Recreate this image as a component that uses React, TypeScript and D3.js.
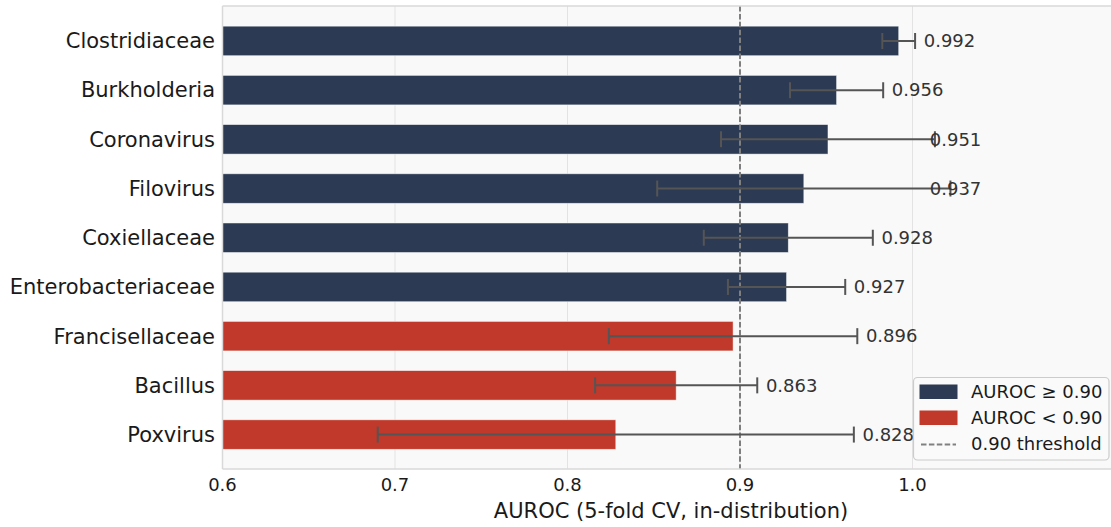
import React from "react";
import * as d3 from "d3";

const categories = [
  "Clostridiaceae",
  "Burkholderia",
  "Coronavirus",
  "Filovirus",
  "Coxiellaceae",
  "Enterobacteriaceae",
  "Francisellaceae",
  "Bacillus",
  "Poxvirus",
];
const auroc = [0.992, 0.956, 0.951, 0.937, 0.928, 0.927, 0.896, 0.863, 0.828];
const stdev = [0.0095, 0.027, 0.062, 0.085, 0.049, 0.034, 0.072, 0.047, 0.138];
const xTicks = [0.6, 0.7, 0.8, 0.9, 1.0];
const threshold = 0.9;

const W = 1111;
const H = 527;
const M = { left: 222.5, right: 1119.5, top: 6, bottom: 469 };
const NAVY = "#2c3a53";
const RED = "#c0392b";
const FONT = "DejaVu Sans, sans-serif";

export default function App() {
  const x = d3.scaleLinear().domain([0.6, 1.12]).range([M.left, M.right]);
  const y = d3
    .scaleLinear()
    .domain([-0.71, categories.length - 1 + 0.7])
    .range([M.top, M.bottom]);
  const barH = y(0.3) - y(-0.3);

  return (
    <svg
      width={W}
      height={H}
      style={{ position: "absolute", left: 0, top: 0, fontFamily: FONT }}
    >
      <defs>
        <clipPath id="plotclip">
          <rect x={M.left} y={M.top} width={M.right - M.left} height={M.bottom - M.top} />
        </clipPath>
      </defs>
      <rect x={0} y={0} width={W} height={H} fill="#ffffff" />
      <rect
        x={M.left}
        y={M.top}
        width={M.right - M.left}
        height={M.bottom - M.top}
        fill="#f9f9f9"
      />
      {xTicks.map((t) => (
        <line
          key={"g" + t}
          x1={x(t)}
          x2={x(t)}
          y1={M.top}
          y2={M.bottom}
          stroke="#e3e3e3"
          strokeWidth={1}
        />
      ))}
      <g clipPath="url(#plotclip)">
        {categories.map((c, i) => (
          <rect
            key={c}
            x={x(0.6)}
            y={y(i) - barH / 2}
            width={x(auroc[i]) - x(0.6)}
            height={barH}
            fill={auroc[i] >= threshold ? NAVY : RED}
            stroke="#ffffff"
            strokeOpacity={0.6}
            strokeWidth={0.8}
          />
        ))}
        <line
          x1={x(threshold)}
          x2={x(threshold)}
          y1={M.top}
          y2={M.bottom}
          stroke="#7f7f7f"
          strokeWidth={2}
          strokeDasharray="5.5,2.4"
        />
        {categories.map((c, i) => {
          const lo = x(auroc[i] - stdev[i]);
          const hi = x(auroc[i] + stdev[i]);
          const cy = y(i);
          return (
            <g key={"e" + c} stroke="#555555" strokeWidth={2}>
              <line x1={lo} x2={hi} y1={cy} y2={cy} />
              <line x1={lo} x2={lo} y1={cy - 8} y2={cy + 8} />
              <line x1={hi} x2={hi} y1={cy - 8} y2={cy + 8} />
            </g>
          );
        })}
        {categories.map((c, i) => (
          <text
            key={"v" + c}
            x={x(Math.min(auroc[i] + stdev[i] + 0.005, 1.01))}
            y={y(i)}
            dy="0.35em"
            fontSize={18}
            fill="#333333"
          >
            {auroc[i].toFixed(3)}
          </text>
        ))}
      </g>
      {/* spines */}
      <line x1={M.left} x2={M.left} y1={M.top} y2={M.bottom} stroke="#d9d9d9" strokeWidth={1.5} />
      <line x1={M.left} x2={M.right} y1={M.bottom} y2={M.bottom} stroke="#d9d9d9" strokeWidth={1.5} />
      <line x1={M.left} x2={M.right} y1={M.top} y2={M.top} stroke="#d9d9d9" strokeWidth={1.5} />
      {/* y tick labels */}
      {categories.map((c, i) => (
        <text
          key={"y" + c}
          x={M.left - 7.5}
          y={y(i)}
          dy="0.35em"
          textAnchor="end"
          fontSize={21}
          fill="#1a1a1a"
        >
          {c}
        </text>
      ))}
      {/* x tick labels */}
      {xTicks.map((t) => (
        <text
          key={"x" + t}
          x={x(t)}
          y={M.bottom + 22}
          textAnchor="middle"
          fontSize={18}
          fill="#1a1a1a"
        >
          {t.toFixed(1)}
        </text>
      ))}
      <text
        x={671}
        y={518}
        textAnchor="middle"
        fontSize={21}
        fill="#1a1a1a"
      >
        AUROC (5-fold CV, in-distribution)
      </text>
      {/* legend */}
      <g>
        <rect
          x={913.5}
          y={377.5}
          width={195.5}
          height={82.5}
          rx={4}
          fill="#f9f9f9"
          fillOpacity={0.9}
          stroke="#cccccc"
          strokeWidth={1.2}
        />
        <rect x={919.5} y={384.5} width={38} height={14.5} fill={NAVY} />
        <text x={971} y={392} dy="0.35em" fontSize={18} fill="#1a1a1a">
          AUROC ≥ 0.90
        </text>
        <rect x={919.5} y={410.5} width={38} height={14.5} fill={RED} />
        <text x={971} y={418} dy="0.35em" fontSize={18} fill="#1a1a1a">
          AUROC &lt; 0.90
        </text>
        <line
          x1={921}
          x2={956}
          y1={444.5}
          y2={444.5}
          stroke="#808080"
          strokeWidth={2}
          strokeDasharray="5.5,2.4"
        />
        <text x={971} y={444} dy="0.35em" fontSize={18} fill="#1a1a1a">
          0.90 threshold
        </text>
      </g>
    </svg>
  );
}
